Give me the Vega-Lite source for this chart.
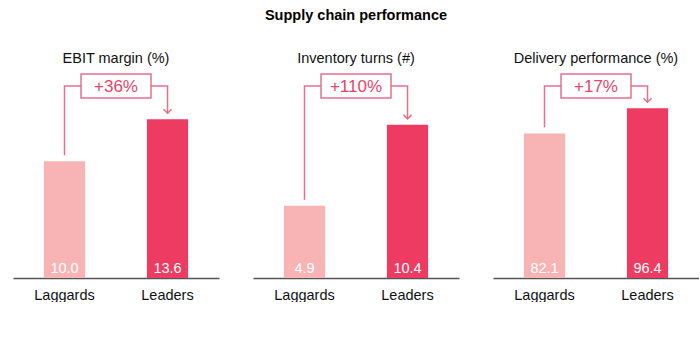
{
  "$schema": "https://vega.github.io/schema/vega-lite/v6.json",
  "padding": {"left": 13, "top": 8, "right": 0, "bottom": 0},
  "background": "white",
  "title": {"text": "Supply chain performance", "fontSize": 14.5, "fontWeight": "bold", "font": "Liberation Sans", "anchor": "middle", "color": "#000000", "offset": 27},
  "datasets": {
    "bars": [
      {"metric": "EBIT margin (%)", "group": "Laggards", "value": 10.0},
      {"metric": "EBIT margin (%)", "group": "Leaders", "value": 13.6},
      {"metric": "Inventory turns (#)", "group": "Laggards", "value": 4.9},
      {"metric": "Inventory turns (#)", "group": "Leaders", "value": 10.4},
      {"metric": "Delivery performance (%)", "group": "Laggards", "value": 82.1},
      {"metric": "Delivery performance (%)", "group": "Leaders", "value": 96.4}
    ],
    "notes": [
      {"metric": "EBIT margin (%)", "change": "+36%", "level": 16.45},
      {"metric": "Inventory turns (#)", "change": "+110%", "level": 13.04},
      {"metric": "Delivery performance (%)", "change": "+17%", "level": 109}
    ]
  },
  "data": {"name": "bars"},
  "transform": [
    {"lookup": "metric", "from": {"data": {"name": "notes"}, "key": "metric", "fields": ["change", "level"]}}
  ],
  "facet": {
    "column": {
      "field": "metric",
      "type": "nominal",
      "sort": ["EBIT margin (%)", "Inventory turns (#)", "Delivery performance (%)"],
      "header": {"title": null, "labelFontSize": 14.5, "labelFont": "Liberation Sans", "labelColor": "#111111", "labelPadding": 20}
    }
  },
  "spacing": 34,
  "bounds": "flush",
  "resolve": {"scale": {"y": "independent"}},
  "spec": {
    "width": 206,
    "height": 192,
    "encoding": {
      "x": {
        "field": "group",
        "type": "nominal",
        "scale": {"paddingInner": 0.6, "paddingOuter": 0.3},
        "axis": {"title": null, "domain": true, "domainColor": "#555555", "domainWidth": 1.5, "ticks": false, "labelPadding": 10, "labelFontSize": 14.5, "labelFont": "Liberation Sans", "labelColor": "#111111", "labelAngle": 0, "grid": false}
      }
    },
    "layer": [
      {
        "mark": {"type": "bar"},
        "encoding": {
          "y": {"field": "value", "type": "quantitative", "scale": {"zero": true, "nice": false}, "axis": null},
          "color": {"field": "group", "type": "nominal", "scale": {"domain": ["Laggards", "Leaders"], "range": ["#f8b3b4", "#ee3b62"]}, "legend": null}
        }
      },
      {
        "mark": {"type": "text", "color": "#ffffff", "fontSize": 14.5, "font": "Liberation Sans", "baseline": "alphabetic", "dy": -5.5},
        "encoding": {
          "y": {"datum": 0, "type": "quantitative"},
          "text": {"field": "value", "type": "quantitative", "format": ".1f"}
        }
      },
      {
        "mark": {"type": "rule", "color": "#e5708c", "strokeWidth": 1.5, "yOffset": -6},
        "encoding": {
          "y": {"field": "value", "type": "quantitative"},
          "y2": {"field": "level"}
        }
      },
      {
        "transform": [{"filter": "datum.group === 'Laggards'"}],
        "mark": {"type": "rule", "color": "#e5708c", "strokeWidth": 1.5, "strokeCap": "square"},
        "encoding": {
          "x": {"datum": "Laggards"},
          "x2": {"datum": "Leaders"},
          "y": {"field": "level", "type": "quantitative"}
        }
      },
      {
        "transform": [{"filter": "datum.group === 'Laggards'"}],
        "mark": {"type": "point", "shape": "M-1,-0.343L1,-0.343L1,0.343L-1,0.343Z", "size": 4900, "filled": true, "fill": "#ffffff", "stroke": "#e5708c", "strokeWidth": 1.5, "opacity": 1, "fillOpacity": 1, "xOffset": 51.5},
        "encoding": {
          "y": {"field": "level", "type": "quantitative"}
        }
      },
      {
        "transform": [{"filter": "datum.group === 'Laggards'"}],
        "mark": {"type": "text", "fontSize": 17, "font": "Liberation Sans", "color": "#e4456b", "xOffset": 51.5, "baseline": "middle", "dy": 1},
        "encoding": {
          "y": {"field": "level", "type": "quantitative"},
          "text": {"field": "change", "type": "nominal"}
        }
      },
      {
        "transform": [{"filter": "datum.group === 'Leaders'"}],
        "mark": {"type": "point", "shape": "M-1,-0.5L0,0.5L1,-0.5", "size": 64, "filled": false, "stroke": "#e5708c", "strokeWidth": 1.5, "opacity": 1, "yOffset": -8},
        "encoding": {
          "y": {"field": "value", "type": "quantitative"}
        }
      }
    ]
  },
  "config": {"view": {"stroke": null}, "font": "Liberation Sans"}
}
